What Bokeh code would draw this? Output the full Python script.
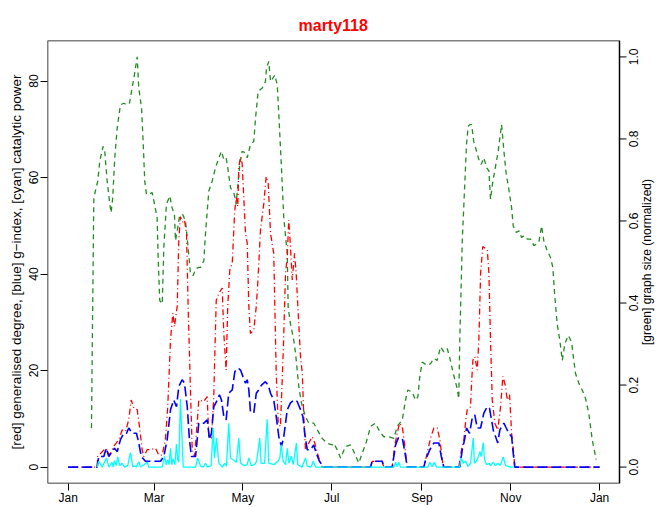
import math
from bokeh.plotting import figure
from bokeh.models import Range1d, LinearAxis, FixedTicker, BoxAnnotation
from bokeh.core.properties import value
from bokeh.embed import file_html
from bokeh.resources import INLINE

# ---------------- data (day of year, value) ----------------
month_tick_days = [0, 59, 120, 181, 243, 304, 365]
month_tick_labels = ["Jan", "Mar", "May", "Jul", "Sep", "Nov", "Jan"]

left_ticks = [0, 20, 40, 60, 80]
right_ticks = [0.0, 0.2, 0.4, 0.6, 0.8, 1.0]
right_tick_labels = ["0.0", "0.2", "0.4", "0.6", "0.8", "1.0"]

green_days = [16.0, 17.6, 20.3, 21.7, 24.0, 25.1, 26.8, 28.6, 29.5, 30.6, 32.0, 33.7, 35.9, 38.2,
              40.5, 42.1, 43.5, 45.5, 47.4, 48.5, 50.4, 51.5, 52.6, 53.8, 55.4, 57.7, 59.3, 61.1,
              61.8, 62.9, 64.6, 65.7, 67.5, 69.8, 71.4, 73.0, 73.7, 74.9, 76.5, 78.7, 80.6, 82.4,
              84.0, 85.9, 87.5, 89.7, 90.9, 93.2, 94.3, 96.6, 98.9, 101.2, 103.5, 105.3, 106.9,
              108.5, 109.6, 111.5, 113.8, 115.4, 116.8, 117.9, 119.5, 121.8, 123.0, 125.2, 127.5,
              128.7, 130.5, 133.3, 135.5, 136.2, 137.8, 139.0, 140.6, 141.9, 143.6, 144.7, 146.5,
              148.1, 150.5, 151.1, 152.7, 155.0, 156.2, 158.4, 160.3, 163.0, 165.3, 168.7, 171.1,
              174.5, 177.9, 181.4, 182.5, 184.8, 187.1, 190.5, 193.9, 196.2, 199.6, 202.0, 204.9,
              207.7, 211.1, 214.1, 216.8, 220.3, 223.7, 226.0, 229.5, 231.7, 233.3, 236.3, 238.6,
              240.2, 241.5, 243.2, 246.6, 248.9, 251.2, 253.5, 255.8, 258.0, 260.4, 262.0, 263.8,
              265.4, 267.2, 268.3, 269.0, 270.7, 272.5, 273.6, 274.8, 275.9, 277.1, 278.6, 280.5,
              282.1, 283.7, 285.5, 287.4, 289.0, 290.1, 291.7, 293.6, 295.4, 296.5, 297.7, 299.3,
              300.9, 302.7, 304.6, 305.7, 307.8, 309.6, 311.4, 313.0, 315.3, 317.6, 319.9, 321.8,
              323.3, 325.2, 326.7, 329.1, 331.3, 332.9, 334.3, 335.9, 337.7, 339.4, 341.2, 343.5,
              345.8, 347.3, 348.5, 350.8, 353.1, 355.4, 357.6, 360.0, 362.7]
green_vals = [0.095, 0.657, 0.697, 0.746, 0.782, 0.770, 0.697, 0.641, 0.620, 0.657, 0.754, 0.827,
              0.883, 0.887, 0.883, 0.887, 0.916, 0.956, 1.000, 0.924, 0.875, 0.794, 0.697, 0.665,
              0.665, 0.669, 0.641, 0.608, 0.511, 0.406, 0.398, 0.535, 0.641, 0.661, 0.632, 0.616,
              0.552, 0.576, 0.612, 0.616, 0.600, 0.535, 0.471, 0.467, 0.483, 0.487, 0.487, 0.503,
              0.568, 0.673, 0.697, 0.730, 0.754, 0.770, 0.750, 0.754, 0.730, 0.681, 0.669, 0.641,
              0.697, 0.738, 0.770, 0.766, 0.754, 0.786, 0.794, 0.851, 0.916, 0.924, 0.940, 0.972,
              0.989, 0.940, 0.948, 0.956, 0.932, 0.859, 0.730, 0.608, 0.519, 0.390, 0.349, 0.309,
              0.277, 0.196, 0.155, 0.123, 0.107, 0.107, 0.091, 0.070, 0.058, 0.054, 0.058, 0.042,
              0.022, 0.050, 0.054, 0.038, 0.010, 0.034, 0.062, 0.099, 0.107, 0.086, 0.074, 0.074,
              0.070, 0.099, 0.115, 0.163, 0.188, 0.183, 0.163, 0.171, 0.220, 0.256, 0.248, 0.252,
              0.265, 0.260, 0.293, 0.281, 0.289, 0.268, 0.240, 0.216, 0.192, 0.167, 0.309, 0.552,
              0.697, 0.786, 0.831, 0.835, 0.835, 0.794, 0.770, 0.750, 0.738, 0.754, 0.730, 0.722,
              0.653, 0.697, 0.734, 0.770, 0.802, 0.835, 0.770, 0.714, 0.677, 0.632, 0.588, 0.572,
              0.576, 0.560, 0.564, 0.556, 0.556, 0.540, 0.544, 0.548, 0.588, 0.552, 0.527, 0.511,
              0.487, 0.414, 0.349, 0.309, 0.260, 0.301, 0.321, 0.305, 0.260, 0.228, 0.204, 0.188,
              0.167, 0.131, 0.066, 0.018]

red_days = [0, 19.9, 20.3, 25.6, 28.6, 31.3, 34.8, 37.1, 39.4, 41.6, 43.3, 45.1, 47.4, 49.0, 50.8,
            51.9, 54.3, 56.5, 60.0, 62.2, 64.6, 66.8, 68.4, 70.3, 71.9, 73.0, 74.9, 76.0, 77.1,
            78.7, 79.9, 81.3, 82.4, 84.0, 85.2, 86.8, 88.6, 89.7, 93.2, 95.5, 96.6, 98.4, 100.0,
            101.7, 103.5, 105.8, 106.9, 108.5, 109.6, 111.0, 112.7, 114.3, 115.4, 116.5, 117.2,
            118.4, 119.5, 120.6, 121.8, 123.0, 124.1, 125.2, 127.5, 129.2, 130.5, 132.1, 134.4,
            136.0, 137.4, 139.0, 141.2, 142.9, 144.3, 145.8, 147.7, 149.3, 150.5, 151.5, 152.7,
            153.9, 155.5, 156.6, 158.0, 159.6, 160.8, 161.9, 163.0, 165.3, 167.6, 169.4, 171.1,
            172.6, 174.5, 207.7, 208.8, 215.7, 216.8, 222.6, 224.2, 226.0, 227.6, 229.5, 231.0,
            232.9, 244.3, 246.6, 248.9, 251.2, 253.5, 255.3, 257.6, 268.3, 270.2, 271.8, 272.9,
            274.1, 276.4, 277.1, 278.0, 279.3, 281.0, 282.1, 283.3, 284.8, 287.9, 289.0, 290.1,
            291.3, 293.1, 295.1, 297.0, 298.6, 300.4, 301.6, 303.2, 304.6, 306.2, 306.8, 365]
red_vals = [0, 0, 2.2, 3.9, 2.5, 4.3, 5.7, 7.7, 7.4, 9.8, 13.9, 12.2, 11.9, 8.4, 3.6, 2.2, 3.6, 3.6,
            3.9, 2.5, 2.5, 5.7, 12.5, 26.4, 31.9, 29.1, 33.3, 47.1, 51.9, 50.8, 51.2, 48.4, 33.3,
            16.0, 3.6, 2.2, 9.0, 13.9, 13.6, 14.6, 6.3, 6.0, 14.6, 34.6, 36.0, 37.1, 27.7, 20.1,
            33.3, 40.8, 42.2, 52.6, 56.0, 54.0, 62.2, 64.3, 62.9, 56.0, 48.4, 46.4, 33.3, 27.7,
            28.4, 33.3, 39.5, 49.1, 54.7, 60.2, 58.8, 48.4, 44.3, 19.5, 9.1, 8.4, 23.6, 40.2, 43.6,
            51.2, 45.7, 38.8, 44.3, 40.2, 31.9, 22.9, 19.5, 9.8, 3.6, 5.0, 6.3, 5.0, 2.9, 1.5, 0,
            0, 1.2, 1.2, 0, 0, 4.3, 7.0, 9.1, 8.4, 5.0, 0, 0, 2.9, 6.0, 8.1, 8.1, 5.7, 0, 0, 3.6,
            5.7, 9.1, 11.9, 12.5, 17.4, 22.2, 22.9, 20.1, 26.4, 40.2, 45.7, 45.0, 40.2, 26.4, 13.9,
            9.1, 7.7, 12.5, 18.8, 16.7, 13.9, 15.0, 7.0, 2.2, 0, 0]

blue_days = [0, 19.9, 21.0, 24.5, 26.1, 27.9, 30.2, 31.8, 33.7, 35.9, 38.2, 40.1, 41.6, 44.0, 46.9,
             48.5, 50.2, 53.1, 63.4, 65.7, 68.0, 70.3, 72.5, 74.4, 76.0, 78.3, 79.9, 81.8, 83.3,
             84.7, 87.5, 89.7, 93.2, 95.5, 97.1, 98.4, 100.0, 102.4, 103.9, 105.3, 106.9, 108.5,
             110.3, 112.7, 114.5, 116.8, 118.4, 120.0, 121.8, 123.0, 124.1, 125.2, 127.5, 129.2,
             130.9, 132.8, 135.5, 137.4, 139.0, 141.2, 142.9, 144.7, 146.5, 148.1, 150.5, 152.7,
             155.0, 157.3, 159.6, 161.2, 162.5, 164.2, 166.5, 168.7, 170.4, 172.6, 175.6, 207.7,
             208.8, 215.7, 216.8, 222.6, 224.9, 226.7, 229.5, 231.0, 232.9, 244.3, 245.5, 248.4,
             251.2, 254.6, 256.3, 258.0, 269.0, 270.7, 272.3, 273.6, 275.7, 277.5, 279.3, 281.0,
             283.3, 285.5, 287.8, 289.4, 290.8, 292.4, 293.6, 295.1, 296.5, 299.3, 300.9, 302.7,
             304.6, 305.7, 306.8, 365]
blue_vals = [0, 0, 2.2, 2.2, 3.9, 2.2, 3.2, 3.9, 3.2, 5.7, 7.0, 7.0, 8.1, 7.0, 7.0, 5.0, 2.2, 1.2,
             1.2, 2.2, 5.7, 11.9, 13.9, 12.5, 16.7, 18.1, 17.4, 12.5, 5.7, 2.2, 2.2, 9.1, 9.1, 9.8,
             5.7, 7.0, 12.5, 13.9, 15.0, 13.9, 10.5, 9.8, 15.3, 16.0, 19.8, 20.5, 20.1, 18.8, 17.4,
             18.1, 16.0, 11.5, 11.2, 15.3, 16.0, 17.0, 17.7, 17.0, 15.3, 13.9, 10.5, 6.3, 4.3, 6.3,
             11.9, 13.3, 13.9, 13.6, 11.9, 10.5, 7.0, 3.6, 3.6, 4.6, 2.9, 1.2, 0, 0, 1.2, 1.2, 0, 0,
             4.6, 6.0, 6.0, 3.6, 0, 0, 1.5, 3.6, 5.0, 5.0, 2.2, 0, 0, 3.6, 5.7, 8.1, 7.0, 10.1, 10.8,
             8.1, 8.1, 11.2, 12.5, 12.2, 9.8, 7.0, 6.3, 5.0, 7.7, 9.1, 8.1, 7.0, 6.3, 2.9, 0, 0]

cyan_days = [19.9, 21.0, 23.4, 26.3, 27.9, 30.2, 30.9, 31.8, 33.0, 34.1, 35.4, 37.1, 38.7, 40.9,
             42.8, 44.4, 45.5, 46.7, 48.5, 49.7, 54.3, 55.4, 64.6, 66.2, 67.3, 68.4, 69.3, 70.3,
             71.2, 72.1, 73.3, 74.4, 75.3, 76.0, 77.1, 79.0, 87.5, 89.0, 90.9, 92.7, 94.3, 95.5,
             98.2, 99.6, 100.5, 101.9, 103.5, 105.8, 107.6, 108.7, 110.3, 111.5, 113.8, 115.6,
             117.2, 118.4, 121.1, 123.0, 124.1, 125.7, 128.0, 129.4, 130.3, 131.6, 132.5, 134.9,
             136.7, 137.8, 141.3, 144.0, 145.4, 146.3, 147.7, 149.3, 150.5, 151.6, 153.2, 154.6,
             156.8, 157.7, 160.7, 163.0, 164.2, 166.9, 168.3, 170.0, 223.7, 224.9, 226.0, 227.1,
             228.3, 247.1, 248.4, 250.0, 251.6, 253.0, 268.8, 270.0, 271.4, 273.0, 274.6, 276.4,
             278.2, 279.1, 280.9, 282.8, 283.7, 285.1, 286.0, 287.4, 289.0, 290.1, 291.9, 293.5,
             295.1, 296.9, 298.8, 300.4, 303.8, 306.0]
cyan_vals = [0, 1.2, 0, 1.9, 0, 1.0, 0, 1.4, 0.3, 2.1, 0.3, 0.8, 0, 0.3, 3.0, 0, 0.3, 0, 1.1, 0,
             1.0, 0, 0, 2.2, 0.5, 1.5, 0.5, 3.9, 0.5, 1.7, 0.5, 4.8, 1.5, 1.0, 14.1, 0, 0, 1.9, 0.2,
             0, 0.8, 0, 0.3, 8.1, 1.9, 6.0, 0.8, 0, 0.8, 0.2, 9.1, 1.9, 1.4, 1.0, 6.0, 0.8, 0.3,
             0.5, 1.9, 0.3, 0.5, 1.2, 3.0, 6.0, 0.8, 0.8, 9.9, 0.8, 0.5, 1.2, 1.9, 4.6, 1.2, 0.5,
             3.9, 0.8, 2.3, 0.5, 5.0, 0.5, 0, 1.9, 0.2, 0, 1.2, 0, 0, 1.0, 0.1, 1.0, 0, 0, 1.0, 0.1,
             1.0, 0, 0, 1.9, 0.8, 1.2, 0.1, 0.8, 6.0, 0.8, 1.5, 3.2, 2.2, 5.1, 1.5, 0.5, 0.8, 0.3,
             1.0, 0.3, 0.8, 0.3, 2.1, 0.3, 0, 0]

title_text = "marty118"
left_label = "[red] generalised degree, [blue] g\u2212index, [cyan] catalytic power"
right_label = "[green] graph size (normalized)"

FONT = "Liberation Sans"

# ---------------- layout constants ----------------
W, H = 656, 507
BORDER_L, BORDER_T, BORDER_B = 47, 40, 24
BOX_W = 572                        # width of the plotting box in pixels
X_LO, X_HI = -14.2, 378.7          # day range spanned by the box
PX_PER_DAY = BOX_W / (X_HI - X_LO)
FRAME_W = W - BORDER_L             # frame also covers the right-axis strip
X_END = X_LO + FRAME_W / PX_PER_DAY
Y_LO, Y_HI = -3.4, 88.4
G_LO, G_HI = -0.04, 1.04

p = figure(width=W, height=H, output_backend="svg", toolbar_location=None,
           x_range=Range1d(X_LO, X_END), y_range=Range1d(Y_LO, Y_HI),
           min_border_left=BORDER_L, min_border_right=0, min_border_top=BORDER_T,
           min_border_bottom=BORDER_B, title=title_text,
           x_axis_type=None, y_axis_type=None)
p.extra_y_ranges = {"g": Range1d(G_LO, G_HI)}

p.title.align = "left"
p.title.offset = 251
p.title.text_color = "red"
p.title.text_font = FONT
p.title.text_font_size = "16px"
p.title.text_font_style = "bold"
p.title.standoff = 14

p.grid.visible = False
p.outline_line_color = None
p.background_fill_color = "white"
p.border_fill_color = "white"


def style_axis(ax):
    ax.axis_line_color = None
    ax.major_tick_line_color = "black"
    ax.major_tick_out = 7
    ax.major_tick_in = 0
    ax.minor_tick_line_color = None
    ax.major_label_text_font = FONT
    ax.major_label_text_font_size = "12px"
    ax.major_label_text_color = "black"
    ax.axis_label_text_font = FONT
    ax.axis_label_text_font_size = "12px"
    ax.axis_label_text_font_style = "normal"
    ax.axis_label_text_color = "black"


xax = LinearAxis(ticker=FixedTicker(ticks=month_tick_days))
xax.major_label_overrides = {d: lab for d, lab in zip(month_tick_days, month_tick_labels)}
style_axis(xax)
xax.major_label_standoff = 0
p.add_layout(xax, "below")

yax = LinearAxis(ticker=FixedTicker(ticks=left_ticks), axis_label=left_label)
style_axis(yax)
yax.axis_label_text_font_size = "13.5px"
yax.major_label_orientation = "vertical"
yax.major_label_standoff = 2
yax.axis_label_standoff = 3
p.add_layout(yax, "left")

# the box around the plotting region
p.add_layout(BoxAnnotation(left=X_LO, right=X_HI, bottom=Y_LO, top=Y_HI, fill_alpha=0,
                           line_color="black", line_width=1.5, line_alpha=1.0))

# data series
p.line(green_days, green_vals, y_range_name="g", line_color="#228B22", line_width=1.3,
       line_dash="5 4")
p.line(red_days, red_vals, line_color="red", line_width=1.3, line_dash="1 3 6 3")
p.line(blue_days, blue_vals, line_color="blue", line_width=1.6, line_dash="10 4")
p.line(cyan_days, cyan_vals, line_color="cyan", line_width=1.3)

# right-hand axis (graph size scale) outside the box
tick_len = 7 / PX_PER_DAY
n = len(right_ticks)
p.segment(x0=[X_HI] * n, x1=[X_HI + tick_len] * n, y0=right_ticks, y1=right_ticks,
          y_range_name="g", line_color="black", line_width=1)
p.text(x=[X_HI + 14 / PX_PER_DAY] * n, y=right_ticks, text=right_tick_labels,
       y_range_name="g", angle=math.pi / 2, text_align="center", text_baseline="middle",
       text_font=value(FONT), text_font_size=value("12px"), text_color="black")
p.text(x=[X_HI + 27 / PX_PER_DAY], y=[(G_LO + G_HI) / 2], text=[right_label],
       y_range_name="g", angle=math.pi / 2, text_align="center", text_baseline="middle",
       text_font=value(FONT), text_font_size=value("12px"), text_color="black")

open("out.html", "w").write(file_html(p, INLINE))
